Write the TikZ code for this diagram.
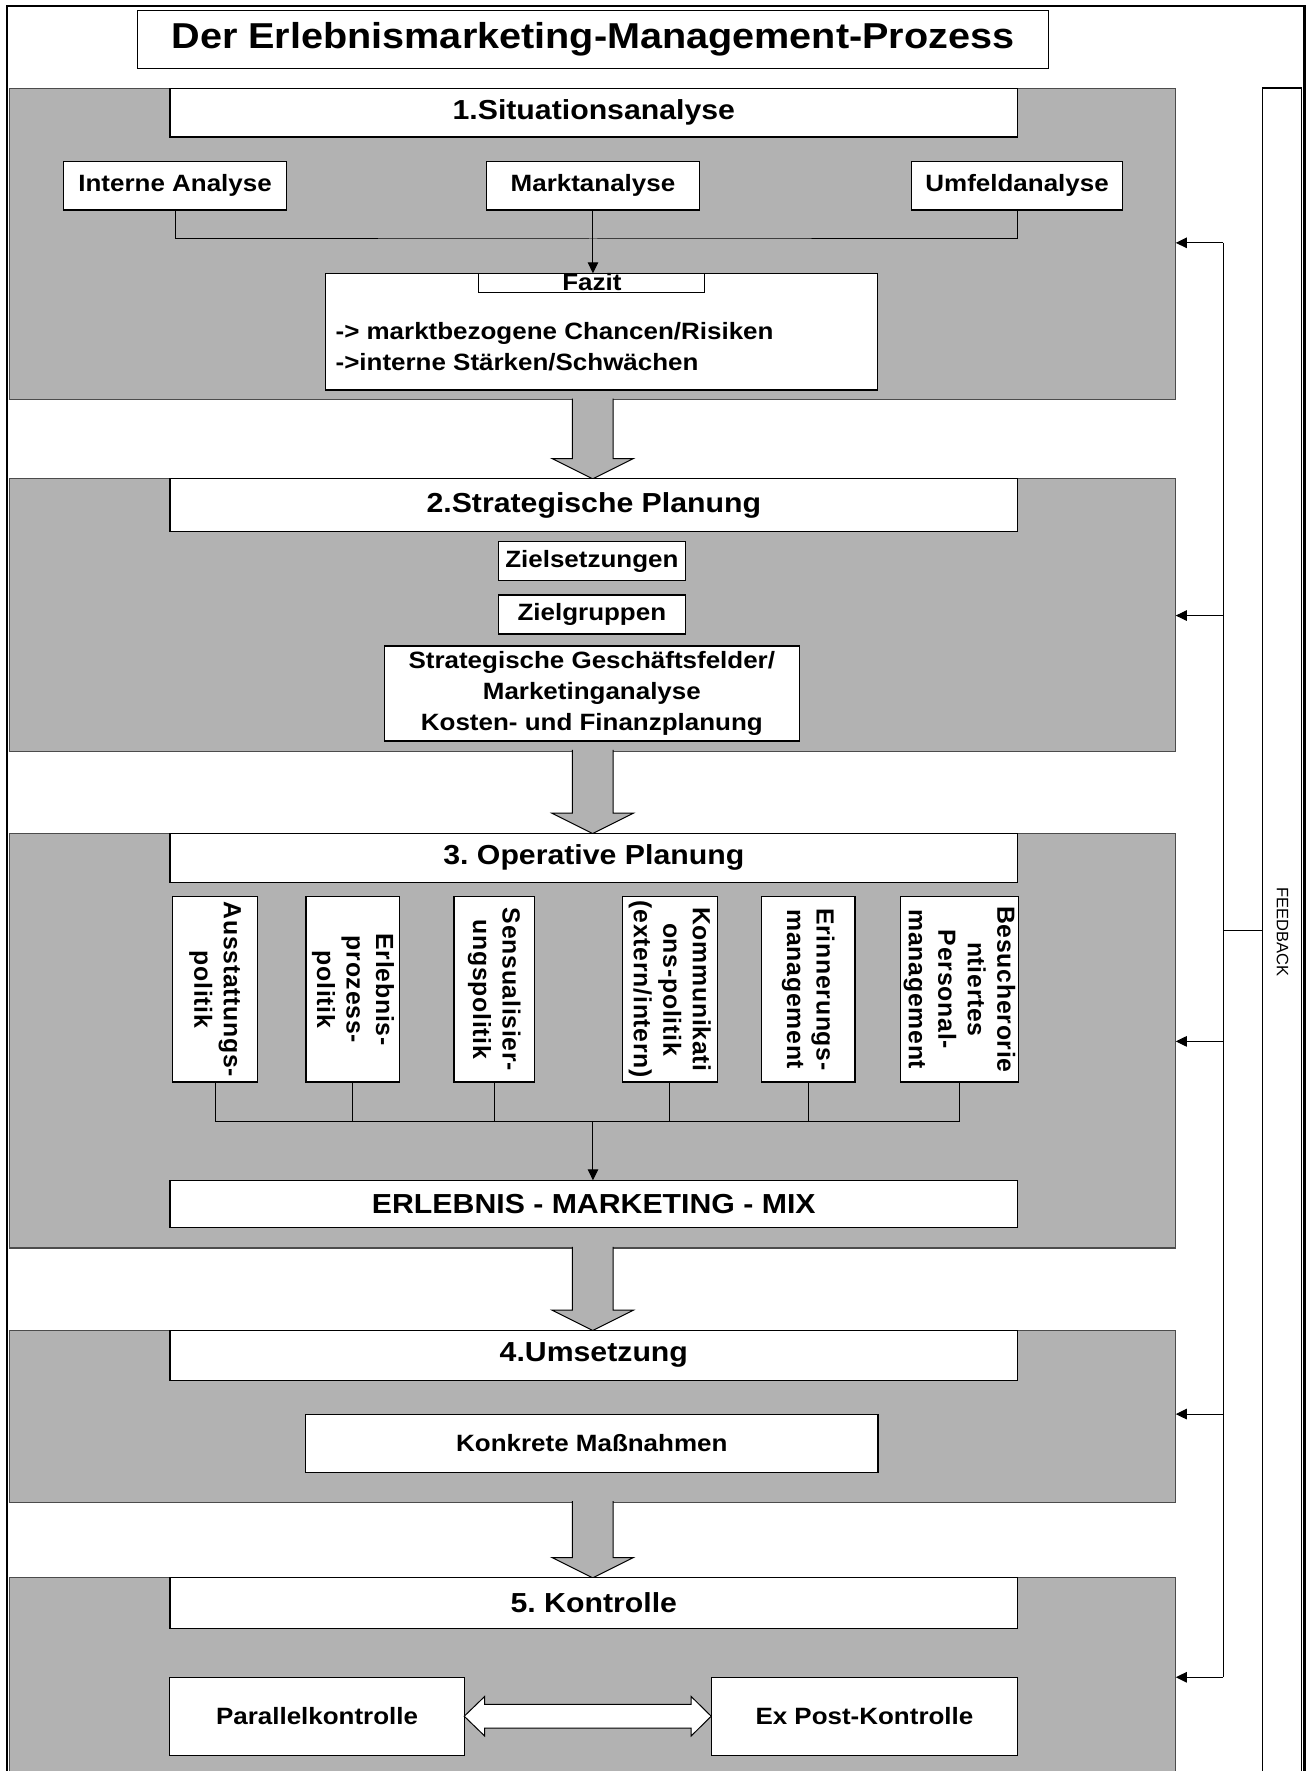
\documentclass[tikz,border=0pt]{standalone}
\usepackage{fontspec}
\setmainfont{Liberation Sans}[FakeStretch=1.1]
\newfontfamily\vfont{Liberation Sans}[LetterSpace=3.0]
\newfontfamily\plainfont{Liberation Sans}
\usetikzlibrary{arrows.meta,calc}
\definecolor{panelgray}{RGB}{178,178,178}
\frenchspacing
\newcommand{\bodyfont}{\bfseries\fontsize{23.6}{31.4}\selectfont}
\newcommand{\headfont}{\bfseries\fontsize{27.5}{30}\selectfont}
\newcommand{\titlefont}{\bfseries\fontsize{36}{40}\selectfont}
\newcommand{\vertfont}{\vfont\bfseries\fontsize{24.8}{29.5}\selectfont}
% [opts]{x1}{y1}{x2}{y2}{name}{text}
\newcommand{\bx}[7][]{\node[box,#1,minimum width={(#4-#2)*1.1294pt},minimum height={(#5-#3)*1.1294pt}] (#6) at ({(#2+#4)/2},{(#3+#5)/2}) {#7};}
\newcommand{\blockarrow}[2]{\draw[barrow] ($(#1.south)+(-18,-1)$) -- ($(#2.north)+(-18,-18)$) -- ($(#2.north)+(-36,-18)$) -- (#2.north) -- ($(#2.north)+(36,-18)$) -- ($(#2.north)+(18,-18)$) -- ($(#1.south)+(18,-1)$);}
\tikzset{
  box/.style={draw=black, line width=1.2pt, fill=white, inner sep=0pt, outer sep=0pt, align=center, font=\bodyfont},
  panel/.style={draw=black!70, line width=1.2pt, fill=panelgray, inner sep=0pt, outer sep=0pt},
  header/.style={font=\headfont},
  conn/.style={draw=black, line width=1pt},
  arr/.style={conn, -{Triangle[length=11pt,width=10.5pt]}},
  barrow/.style={fill=panelgray, draw=black, line width=1pt, line join=miter},
  dblarrow/.style={fill=white, draw=black, line width=1pt, line join=miter},
  vtext/.style={rotate=-90, align=center, font=\vertfont, inner sep=0pt}
}
\begin{document}
\begin{tikzpicture}[x=1.1294pt, y=-1.1294pt]
\useasboundingbox (0,0) rectangle (1159,1568);
\clip (0,0) rectangle (1159,1568);
% outer frame
\draw[line width=2.2pt] (6,5.5) rectangle (1155,1700);
% title
\bx[font=\titlefont, line width=1pt]{122}{8.9}{928}{61}{title}{Der Erlebnismarketing-Management-Prozess}
% panels
\node[panel, minimum width={1032.5*1.1294pt}, minimum height={275.8*1.1294pt}] (p1) at (524.75,216.1) {};
\node[panel, minimum width={1032.5*1.1294pt}, minimum height={241*1.1294pt}] (p2) at (524.75,544.5) {};
\node[panel, minimum width={1032.5*1.1294pt}, minimum height={367*1.1294pt}] (p3) at (524.75,921.5) {};
\node[panel, minimum width={1032.5*1.1294pt}, minimum height={152*1.1294pt}] (p4) at (524.75,1254) {};
\node[panel, minimum width={1032.5*1.1294pt}, minimum height={303*1.1294pt}] (p5) at (524.75,1548.5) {};
% block arrows between panels
\blockarrow{p1}{p2}
\blockarrow{p2}{p3}
\blockarrow{p3}{p4}
\blockarrow{p4}{p5}
% headers
\bx[header]{150.5}{78.2}{901}{121.3}{h1}{1.Situationsanalyse}
\bx[header]{150.5}{424}{901}{470.8}{h2}{2.Strategische Planung}
\bx[header]{150.5}{738}{901}{781}{h3}{3. Operative Planung}
\bx[header]{150.5}{1178}{901}{1222}{h4}{4.Umsetzung}
\bx[header]{150.5}{1397}{901}{1441.6}{h5}{5. Kontrolle}
% panel 1
\bx{56}{143}{254}{186}{ia}{Interne Analyse}
\bx{431}{143}{619}{186}{mk}{Marktanalyse}
\bx{807}{143}{994}{186}{uf}{Umfeldanalyse}
\bx{288.3}{242}{777}{345.3}{fz}{}
\bx{423.4}{242}{624}{259}{fzl}{}
\node[font=\bodyfont, anchor=base, inner sep=0pt] (fzt) at (524,257.4) {Fazit};
\node[font=\bodyfont, anchor=base west, inner sep=0pt] (fz1) at (297,301) {-> marktbezogene Chancen/Risiken};
\node[font=\bodyfont, anchor=base west, inner sep=0pt] (fz2) at (297,327.6) {->interne Stärken/Schwächen};
\coordinate (j1) at (525,211.6);
\draw[conn] (ia.south) |- (j1) -| (uf.south);
\draw[arr] (mk.south) -- (mk.south |- fz.north);
% panel 2
\bx{441}{479.6}{607}{514}{zs}{Zielsetzungen}
\bx{441}{526.8}{607}{561.4}{zg}{Zielgruppen}
\bx{340.3}{572}{707.7}{656}{sg}{Strategische Geschäftsfelder/\\Marketinganalyse\\Kosten- und Finanzplanung}
% panel 3
\bx{153}{794}{228}{958}{v1}{}
\bx{271}{794}{354}{958}{v2}{}
\bx{402}{794}{473}{958}{v3}{}
\bx{551}{794}{635}{958}{v4}{}
\bx{674}{794}{757}{958}{v5}{}
\bx{797}{794}{902}{958}{v6}{}
\node[vtext] (t1) at (v1.center) {Ausstattungs-\\politik};
\node[vtext] (t2) at (v2.center) {Erlebnis-\\prozess-\\politik};
\node[vtext] (t3) at (v3.center) {Sensualisier-\\ungspolitik};
\node[vtext] (t4) at (v4.center) {Kommunikati\\ons-politik\\(extern/intern)};
\node[vtext] (t5) at (v5.center) {Erinnerungs-\\management};
\node[vtext] (t6) at (v6.center) {Besucherorie\\ntiertes\\Personal-\\management};
\bx[header]{150.5}{1045}{901}{1087}{mix}{ERLEBNIS - MARKETING - MIX}
\coordinate (j3) at (525,993);
\draw[conn] (v1.south) |- (j3) -| (v6.south);
\foreach \v in {v2,v3,v4,v5} \draw[conn] (\v.south) -- (\v.south |- j3);
\draw[arr] (j3) -- (j3 |- mix.north);
% panel 4
\bx{270.6}{1252}{777.4}{1303.6}{km}{Konkrete Maßnahmen}
% panel 5
\bx{150.4}{1485}{411}{1554}{pk}{Parallelkontrolle}
\bx{629.7}{1485}{901}{1554}{ek}{Ex Post-Kontrolle}
\draw[dblarrow] (pk.east) -- ($(pk.east)+(18,-17.4)$) -- ($(pk.east)+(18,-10.6)$) -- ($(ek.west)+(-17.7,-10.6)$) -- ($(ek.west)+(-17.7,-17.4)$) -- (ek.west) -- ($(ek.west)+(-17.7,17.4)$) -- ($(ek.west)+(-17.7,10.6)$) -- ($(pk.east)+(18,10.6)$) -- ($(pk.east)+(18,17.4)$) -- cycle;
% feedback
\node[draw=black, line width=1.2pt, fill=white, inner sep=0pt, outer sep=0pt, minimum width={34.5*1.1294pt}, minimum height={1622*1.1294pt}] (fb) at (1135.25,889) {};
\node[rotate=-90, font=\plainfont\fontsize{16.5}{20}\selectfont, inner sep=0pt] (fbt) at (1135.5,825) {FEEDBACK};
\coordinate (fa0) at (1083,824);
\coordinate (fa1) at (1083,215);
\coordinate (fa2) at (1083,545);
\coordinate (fa3) at (1083,922);
\coordinate (fa4) at (1083,1252);
\coordinate (fa5) at (1083,1485);
\draw[conn] (fa1) -- (fa5);
\draw[conn] (fa0) -- (fa0 -| fb.west);
\draw[arr] (fa1) -- (fa1 -| p1.east);
\draw[arr] (fa2) -- (fa2 -| p2.east);
\draw[arr] (fa3) -- (fa3 -| p3.east);
\draw[arr] (fa4) -- (fa4 -| p4.east);
\draw[arr] (fa5) -- (fa5 -| p5.east);
\end{tikzpicture}
\end{document}
